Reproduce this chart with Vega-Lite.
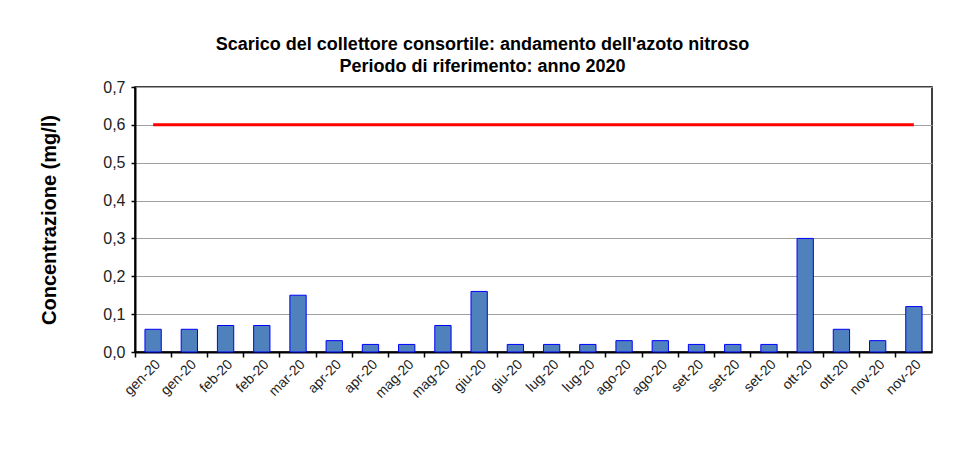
{
  "$schema": "https://vega.github.io/schema/vega-lite/v6.json",
  "width": 797,
  "height": 265,
  "autosize": {"type": "none"},
  "padding": {"left": 135, "top": 87, "right": 28, "bottom": 100},
  "background": "white",
  "config": {
    "font": "Liberation Sans",
    "view": {"stroke": "black", "strokeWidth": 1.5},
    "axis": {"labelFont": "Liberation Sans", "titleFont": "Liberation Sans"},
    "axisY": {
      "titleFontSize": 20,
      "titleFontWeight": "bold",
      "titleColor": "black",
      "titlePadding": 43,
      "labelFontSize": 16,
      "labelColor": "#222222",
      "labelPadding": 6,
      "labelOverlap": false,
      "tickSize": 4,
      "tickColor": "black",
      "tickWidth": 1.5,
      "domainColor": "black",
      "domainWidth": 2,
      "grid": true,
      "gridColor": "#A0A0A0",
      "gridWidth": 1
    }
  },
  "title": {
    "text": ["Scarico del collettore consortile: andamento dell'azoto nitroso", "Periodo di riferimento: anno 2020"],
    "font": "Liberation Sans",
    "fontSize": 18,
    "fontWeight": "bold",
    "color": "black",
    "anchor": "middle",
    "frame": "group",
    "dx": -51,
    "offset": 3,
    "lineHeight": 22
  },
  "data": {
    "values": [
      {"id": "gen-20|1", "valore": 0.06, "limite": 0.6},
      {"id": "gen-20|2", "valore": 0.06, "limite": 0.6},
      {"id": "feb-20|3", "valore": 0.07, "limite": 0.6},
      {"id": "feb-20|4", "valore": 0.07, "limite": 0.6},
      {"id": "mar-20|5", "valore": 0.15, "limite": 0.6},
      {"id": "apr-20|6", "valore": 0.03, "limite": 0.6},
      {"id": "apr-20|7", "valore": 0.02, "limite": 0.6},
      {"id": "mag-20|8", "valore": 0.02, "limite": 0.6},
      {"id": "mag-20|9", "valore": 0.07, "limite": 0.6},
      {"id": "giu-20|10", "valore": 0.16, "limite": 0.6},
      {"id": "giu-20|11", "valore": 0.02, "limite": 0.6},
      {"id": "lug-20|12", "valore": 0.02, "limite": 0.6},
      {"id": "lug-20|13", "valore": 0.02, "limite": 0.6},
      {"id": "ago-20|14", "valore": 0.03, "limite": 0.6},
      {"id": "ago-20|15", "valore": 0.03, "limite": 0.6},
      {"id": "set-20|16", "valore": 0.02, "limite": 0.6},
      {"id": "set-20|17", "valore": 0.02, "limite": 0.6},
      {"id": "set-20|18", "valore": 0.02, "limite": 0.6},
      {"id": "ott-20|19", "valore": 0.30, "limite": 0.6},
      {"id": "ott-20|20", "valore": 0.06, "limite": 0.6},
      {"id": "nov-20|21", "valore": 0.03, "limite": 0.6},
      {"id": "nov-20|22", "valore": 0.12, "limite": 0.6}
    ]
  },
  "encoding": {
    "x": {
      "field": "id",
      "type": "nominal",
      "sort": null,
      "scale": {"paddingInner": 0.55, "paddingOuter": 0.275},
      "axis": {
        "title": null,
        "labelAngle": -45,
        "labelAlign": "right",
        "labelBaseline": "top",
        "labelFontSize": 14,
        "labelColor": "#222222",
        "labelExpr": "split(datum.value, '|')[0]",
        "bandPosition": -0.611,
        "labelPadding": 0,
        "labelOverlap": false,
        "tickSize": 5,
        "tickColor": "black",
        "tickWidth": 1.5,
        "domainColor": "black",
        "domainWidth": 2,
        "grid": false
      }
    }
  },
  "layer": [
    {
      "mark": {"type": "bar", "fill": "#4F81BD", "stroke": "#0000FF", "strokeWidth": 1},
      "encoding": {
        "y": {
          "field": "valore",
          "type": "quantitative",
          "scale": {"domain": [0, 0.7], "nice": false},
          "axis": {
            "title": "Concentrazione (mg/l)",
            "values": [0, 0.1, 0.2, 0.3, 0.4, 0.5, 0.6, 0.7],
            "labelExpr": "replace(format(datum.value, '.1f'), '.', ',')"
          }
        }
      }
    },
    {
      "mark": {"type": "line", "color": "#FF0000", "strokeWidth": 3},
      "encoding": {
        "y": {
          "field": "limite",
          "type": "quantitative",
          "axis": {
            "title": "Concentrazione (mg/l)",
            "values": [0, 0.1, 0.2, 0.3, 0.4, 0.5, 0.6, 0.7],
            "labelExpr": "replace(format(datum.value, '.1f'), '.', ',')"
          }
        }
      }
    }
  ]
}
